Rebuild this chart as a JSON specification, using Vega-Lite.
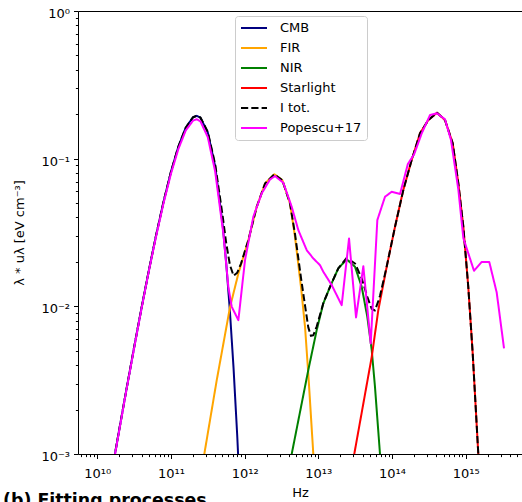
{
  "$schema": "https://vega.github.io/schema/vega-lite/v6.json",
  "width": 444,
  "height": 443,
  "autosize": {"type": "none"},
  "padding": {"left": 78, "top": 11, "right": 0, "bottom": 48},
  "background": "white",
  "config": {
    "font": "DejaVu Sans",
    "view": {"stroke": null},
    "axis": {
      "grid": false,
      "domainColor": "black",
      "domainWidth": 1,
      "tickColor": "black",
      "tickWidth": 1,
      "labelColor": "black",
      "titleColor": "black",
      "labelFont": "DejaVu Sans",
      "titleFont": "DejaVu Sans",
      "labelFontSize": 13,
      "titleFontSize": 13,
      "titleFontWeight": "normal",
      "labelOverlap": false,
      "labelFlush": false,
      "labelBound": false
    }
  },
  "title": {
    "text": "(b) Fitting processes",
    "orient": "bottom",
    "anchor": "start",
    "frame": "group",
    "dx": -75,
    "offset": 6,
    "baseline": "alphabetic",
    "fontSize": 17.4,
    "fontWeight": "bold",
    "font": "DejaVu Sans",
    "color": "black"
  },
  "data": {
    "values": [
      {"series": "CMB", "nu": 1.585e10, "u": 7.68e-4},
      {"series": "CMB", "nu": 1.995e10, "u": 1.476e-3},
      {"series": "CMB", "nu": 2.512e10, "u": 2.806e-3},
      {"series": "CMB", "nu": 3.162e10, "u": 5.26e-3},
      {"series": "CMB", "nu": 3.981e10, "u": 9.7e-3},
      {"series": "CMB", "nu": 5.012e10, "u": 0.01746},
      {"series": "CMB", "nu": 6.31e10, "u": 0.0305},
      {"series": "CMB", "nu": 7.943e10, "u": 0.05117},
      {"series": "CMB", "nu": 1e11, "u": 0.0814},
      {"series": "CMB", "nu": 1.259e11, "u": 0.1204},
      {"series": "CMB", "nu": 1.585e11, "u": 0.1618},
      {"series": "CMB", "nu": 1.995e11, "u": 0.1909},
      {"series": "CMB", "nu": 2.239e11, "u": 0.195},
      {"series": "CMB", "nu": 2.512e11, "u": 0.1896},
      {"series": "CMB", "nu": 3.162e11, "u": 0.1504},
      {"series": "CMB", "nu": 3.981e11, "u": 0.089},
      {"series": "CMB", "nu": 5.012e11, "u": 0.03637},
      {"series": "CMB", "nu": 5.623e11, "u": 0.01967},
      {"series": "CMB", "nu": 6.31e11, "u": 0.0093},
      {"series": "CMB", "nu": 7.079e11, "u": 0.0038},
      {"series": "CMB", "nu": 7.943e11, "u": 0.00132},
      {"series": "CMB", "nu": 8.913e11, "u": 3.8e-4},
      {"series": "CMB", "nu": 1e12, "u": 8.85e-5},

      {"series": "FIR", "nu": 2.512e11, "u": 6.9e-4},
      {"series": "FIR", "nu": 2.838e11, "u": 1.0e-3},
      {"series": "FIR", "nu": 4.178e11, "u": 3.15e-3},
      {"series": "FIR", "nu": 6.339e11, "u": 9.89e-3},
      {"series": "FIR", "nu": 8.222e11, "u": 0.01667},
      {"series": "FIR", "nu": 1.122e12, "u": 0.028},
      {"series": "FIR", "nu": 1.459e12, "u": 0.0471},
      {"series": "FIR", "nu": 1.892e12, "u": 0.0679},
      {"series": "FIR", "nu": 2.529e12, "u": 0.0785},
      {"series": "FIR", "nu": 3.251e12, "u": 0.0715},
      {"series": "FIR", "nu": 4.13e12, "u": 0.0497},
      {"series": "FIR", "nu": 4.831e12, "u": 0.0295},
      {"series": "FIR", "nu": 5.821e12, "u": 0.01352},
      {"series": "FIR", "nu": 6.607e12, "u": 0.00724},
      {"series": "FIR", "nu": 7.311e12, "u": 0.0035},
      {"series": "FIR", "nu": 8.551e12, "u": 0.001},
      {"series": "FIR", "nu": 8.913e12, "u": 7.1e-4},

      {"series": "NIR", "nu": 3.981e12, "u": 8.0e-4},
      {"series": "NIR", "nu": 4.355e12, "u": 1.0e-3},
      {"series": "NIR", "nu": 7.311e12, "u": 0.0037},
      {"series": "NIR", "nu": 9.506e12, "u": 0.0069},
      {"series": "NIR", "nu": 1.169e13, "u": 0.01047},
      {"series": "NIR", "nu": 1.442e13, "u": 0.01355},
      {"series": "NIR", "nu": 1.866e13, "u": 0.01807},
      {"series": "NIR", "nu": 2.427e13, "u": 0.0208},
      {"series": "NIR", "nu": 3.148e13, "u": 0.01853},
      {"series": "NIR", "nu": 3.882e13, "u": 0.01355},
      {"series": "NIR", "nu": 4.624e13, "u": 0.00849},
      {"series": "NIR", "nu": 5.309e13, "u": 0.00505},
      {"series": "NIR", "nu": 5.875e13, "u": 0.00285},
      {"series": "NIR", "nu": 6.871e13, "u": 0.001},
      {"series": "NIR", "nu": 7.244e13, "u": 6.3e-4},

      {"series": "Starlight", "nu": 2.818e13, "u": 7.8e-4},
      {"series": "Starlight", "nu": 3.076e13, "u": 1.0e-3},
      {"series": "Starlight", "nu": 5.309e13, "u": 0.00455},
      {"series": "Starlight", "nu": 6.516e13, "u": 0.00942},
      {"series": "Starlight", "nu": 8.472e13, "u": 0.01853},
      {"series": "Starlight", "nu": 1.099e14, "u": 0.0346},
      {"series": "Starlight", "nu": 1.422e14, "u": 0.0612},
      {"series": "Starlight", "nu": 1.849e14, "u": 0.0979},
      {"series": "Starlight", "nu": 2.399e14, "u": 0.1483},
      {"series": "Starlight", "nu": 3.112e14, "u": 0.1827},
      {"series": "Starlight", "nu": 4.083e14, "u": 0.2046},
      {"series": "Starlight", "nu": 5.236e14, "u": 0.1827},
      {"series": "Starlight", "nu": 6.668e14, "u": 0.127},
      {"series": "Starlight", "nu": 7.943e14, "u": 0.0681},
      {"series": "Starlight", "nu": 9.29e14, "u": 0.0346},
      {"series": "Starlight", "nu": 1.084e15, "u": 0.01355},
      {"series": "Starlight", "nu": 1.245e15, "u": 0.0048},
      {"series": "Starlight", "nu": 1.483e15, "u": 0.001},
      {"series": "Starlight", "nu": 1.549e15, "u": 6.3e-4},

      {"series": "I tot.", "nu": 1.585e10, "u": 7.68e-4},
      {"series": "I tot.", "nu": 1.995e10, "u": 1.476e-3},
      {"series": "I tot.", "nu": 2.512e10, "u": 2.806e-3},
      {"series": "I tot.", "nu": 3.162e10, "u": 5.26e-3},
      {"series": "I tot.", "nu": 3.981e10, "u": 9.7e-3},
      {"series": "I tot.", "nu": 5.012e10, "u": 0.01746},
      {"series": "I tot.", "nu": 6.31e10, "u": 0.0305},
      {"series": "I tot.", "nu": 7.943e10, "u": 0.05117},
      {"series": "I tot.", "nu": 1e11, "u": 0.0814},
      {"series": "I tot.", "nu": 1.259e11, "u": 0.1204},
      {"series": "I tot.", "nu": 1.585e11, "u": 0.1618},
      {"series": "I tot.", "nu": 1.995e11, "u": 0.1909},
      {"series": "I tot.", "nu": 2.239e11, "u": 0.195},
      {"series": "I tot.", "nu": 2.512e11, "u": 0.1902},
      {"series": "I tot.", "nu": 3.162e11, "u": 0.1518},
      {"series": "I tot.", "nu": 3.981e11, "u": 0.0917},
      {"series": "I tot.", "nu": 5.012e11, "u": 0.0416},
      {"series": "I tot.", "nu": 5.623e11, "u": 0.0268},
      {"series": "I tot.", "nu": 6.31e11, "u": 0.0191},
      {"series": "I tot.", "nu": 7.079e11, "u": 0.0161},
      {"series": "I tot.", "nu": 7.943e11, "u": 0.0169},
      {"series": "I tot.", "nu": 8.913e11, "u": 0.0194},
      {"series": "I tot.", "nu": 1.122e12, "u": 0.028},
      {"series": "I tot.", "nu": 1.459e12, "u": 0.0471},
      {"series": "I tot.", "nu": 1.892e12, "u": 0.0679},
      {"series": "I tot.", "nu": 2.529e12, "u": 0.0785},
      {"series": "I tot.", "nu": 3.251e12, "u": 0.0715},
      {"series": "I tot.", "nu": 4.13e12, "u": 0.0497},
      {"series": "I tot.", "nu": 4.831e12, "u": 0.0308},
      {"series": "I tot.", "nu": 5.821e12, "u": 0.0156},
      {"series": "I tot.", "nu": 6.607e12, "u": 0.0101},
      {"series": "I tot.", "nu": 7.311e12, "u": 0.0072},
      {"series": "I tot.", "nu": 7.943e12, "u": 0.00631},
      {"series": "I tot.", "nu": 8.551e12, "u": 0.00637},
      {"series": "I tot.", "nu": 9.506e12, "u": 0.0073},
      {"series": "I tot.", "nu": 1.169e13, "u": 0.0105},
      {"series": "I tot.", "nu": 1.442e13, "u": 0.01355},
      {"series": "I tot.", "nu": 1.866e13, "u": 0.01807},
      {"series": "I tot.", "nu": 2.427e13, "u": 0.0213},
      {"series": "I tot.", "nu": 3.148e13, "u": 0.0195},
      {"series": "I tot.", "nu": 3.882e13, "u": 0.01546},
      {"series": "I tot.", "nu": 4.624e13, "u": 0.01159},
      {"series": "I tot.", "nu": 5.309e13, "u": 0.0096},
      {"series": "I tot.", "nu": 5.875e13, "u": 0.00937},
      {"series": "I tot.", "nu": 6.516e13, "u": 0.01085},
      {"series": "I tot.", "nu": 6.871e13, "u": 0.01179},
      {"series": "I tot.", "nu": 8.472e13, "u": 0.0186},
      {"series": "I tot.", "nu": 1.099e14, "u": 0.0346},
      {"series": "I tot.", "nu": 1.422e14, "u": 0.0612},
      {"series": "I tot.", "nu": 1.849e14, "u": 0.0979},
      {"series": "I tot.", "nu": 2.399e14, "u": 0.1483},
      {"series": "I tot.", "nu": 3.112e14, "u": 0.1827},
      {"series": "I tot.", "nu": 4.083e14, "u": 0.2046},
      {"series": "I tot.", "nu": 5.236e14, "u": 0.1827},
      {"series": "I tot.", "nu": 6.668e14, "u": 0.127},
      {"series": "I tot.", "nu": 7.943e14, "u": 0.0681},
      {"series": "I tot.", "nu": 9.29e14, "u": 0.0346},
      {"series": "I tot.", "nu": 1.084e15, "u": 0.01355},
      {"series": "I tot.", "nu": 1.245e15, "u": 0.0048},
      {"series": "I tot.", "nu": 1.483e15, "u": 0.001},
      {"series": "I tot.", "nu": 1.549e15, "u": 6.3e-4},

      {"series": "Popescu+17", "nu": 1.585e10, "u": 7.6e-4},
      {"series": "Popescu+17", "nu": 1.995e10, "u": 1.46e-3},
      {"series": "Popescu+17", "nu": 2.512e10, "u": 2.78e-3},
      {"series": "Popescu+17", "nu": 3.162e10, "u": 5.2e-3},
      {"series": "Popescu+17", "nu": 3.981e10, "u": 9.6e-3},
      {"series": "Popescu+17", "nu": 5.012e10, "u": 0.0173},
      {"series": "Popescu+17", "nu": 6.31e10, "u": 0.03},
      {"series": "Popescu+17", "nu": 7.943e10, "u": 0.05},
      {"series": "Popescu+17", "nu": 1e11, "u": 0.079},
      {"series": "Popescu+17", "nu": 1.259e11, "u": 0.116},
      {"series": "Popescu+17", "nu": 1.585e11, "u": 0.155},
      {"series": "Popescu+17", "nu": 1.995e11, "u": 0.181},
      {"series": "Popescu+17", "nu": 2.239e11, "u": 0.185},
      {"series": "Popescu+17", "nu": 2.512e11, "u": 0.179},
      {"series": "Popescu+17", "nu": 3.162e11, "u": 0.14},
      {"series": "Popescu+17", "nu": 3.981e11, "u": 0.082},
      {"series": "Popescu+17", "nu": 5.14e11, "u": 0.0312},
      {"series": "Popescu+17", "nu": 6.012e11, "u": 0.01355},
      {"series": "Popescu+17", "nu": 6.683e11, "u": 0.00993},
      {"series": "Popescu+17", "nu": 8.222e11, "u": 0.00806},
      {"series": "Popescu+17", "nu": 1.012e12, "u": 0.02056},
      {"series": "Popescu+17", "nu": 1.312e12, "u": 0.0404},
      {"series": "Popescu+17", "nu": 1.706e12, "u": 0.0582},
      {"series": "Popescu+17", "nu": 2.213e12, "u": 0.0724},
      {"series": "Popescu+17", "nu": 2.588e12, "u": 0.0762},
      {"series": "Popescu+17", "nu": 3.35e12, "u": 0.0687},
      {"series": "Popescu+17", "nu": 4.355e12, "u": 0.0472},
      {"series": "Popescu+17", "nu": 5.358e12, "u": 0.0328},
      {"series": "Popescu+17", "nu": 6.966e12, "u": 0.024},
      {"series": "Popescu+17", "nu": 8.551e12, "u": 0.0211},
      {"series": "Popescu+17", "nu": 1.054e13, "u": 0.019},
      {"series": "Popescu+17", "nu": 1.169e13, "u": 0.01714},
      {"series": "Popescu+17", "nu": 1.521e13, "u": 0.01392},
      {"series": "Popescu+17", "nu": 2.075e13, "u": 0.01019},
      {"series": "Popescu+17", "nu": 2.612e13, "u": 0.0288},
      {"series": "Popescu+17", "nu": 3.251e13, "u": 0.00841},
      {"series": "Popescu+17", "nu": 4.083e13, "u": 0.0187},
      {"series": "Popescu+17", "nu": 5.14e13, "u": 0.00561},
      {"series": "Popescu+17", "nu": 6.324e13, "u": 0.0384},
      {"series": "Popescu+17", "nu": 8.035e13, "u": 0.0552},
      {"series": "Popescu+17", "nu": 9.908e13, "u": 0.0597},
      {"series": "Popescu+17", "nu": 1.285e14, "u": 0.0576},
      {"series": "Popescu+17", "nu": 1.641e14, "u": 0.092},
      {"series": "Popescu+17", "nu": 1.995e14, "u": 0.107},
      {"series": "Popescu+17", "nu": 2.529e14, "u": 0.1483},
      {"series": "Popescu+17", "nu": 3.281e14, "u": 0.1974},
      {"series": "Popescu+17", "nu": 4.074e14, "u": 0.2028},
      {"series": "Popescu+17", "nu": 5.236e14, "u": 0.185},
      {"series": "Popescu+17", "nu": 6.31e14, "u": 0.134},
      {"series": "Popescu+17", "nu": 7.943e14, "u": 0.062},
      {"series": "Popescu+17", "nu": 9.29e14, "u": 0.029},
      {"series": "Popescu+17", "nu": 1.297e15, "u": 0.0174},
      {"series": "Popescu+17", "nu": 1.648e15, "u": 0.02},
      {"series": "Popescu+17", "nu": 2.089e15, "u": 0.02},
      {"series": "Popescu+17", "nu": 2.636e15, "u": 0.0124},
      {"series": "Popescu+17", "nu": 3.311e15, "u": 0.0052}
    ]
  },
  "layer": [
    {
      "transform": [{"filter": "datum.series === 'Starlight' && datum.u > 0.002"}],
      "mark": {"type": "line", "opacity": 0, "clip": true},
      "encoding": {
        "x": {
          "field": "nu", "type": "quantitative",
          "scale": {"type": "log", "domain": [5.48e9, 5.81e15], "nice": false},
          "axis": {"orient": "top", "ticks": false, "labels": false, "title": null}
        },
        "y": {
          "field": "u", "type": "quantitative",
          "scale": {"type": "log", "domain": [0.001, 1], "nice": false},
          "axis": null
        }
      }
    },
    {
      "transform": [{"filter": {"field": "series", "oneOf": ["CMB", "FIR", "NIR", "Starlight"]}}],
      "mark": {"type": "line", "strokeWidth": 2, "clip": true, "strokeJoin": "round"},
      "encoding": {
        "x": {
          "field": "nu", "type": "quantitative",
          "scale": {"type": "log", "domain": [5.48e9, 5.81e15], "nice": false},
          "axis": {
            "orient": "bottom",
            "title": "Hz",
            "values": [6e9, 7e9, 8e9, 9e9,
              1e10, 2e10, 3e10, 4e10, 5e10, 6e10, 7e10, 8e10, 9e10,
              1e11, 2e11, 3e11, 4e11, 5e11, 6e11, 7e11, 8e11, 9e11,
              1e12, 2e12, 3e12, 4e12, 5e12, 6e12, 7e12, 8e12, 9e12,
              1e13, 2e13, 3e13, 4e13, 5e13, 6e13, 7e13, 8e13, 9e13,
              1e14, 2e14, 3e14, 4e14, 5e14, 6e14, 7e14, 8e14, 9e14,
              1e15, 2e15, 3e15, 4e15, 5e15],
            "labelExpr": "abs(log(datum.value)/LN10 - round(log(datum.value)/LN10)) < 0.001 ? '10' + ['¹⁰','¹¹','¹²','¹³','¹⁴','¹⁵'][round(log(datum.value)/LN10) - 10] : ''",
            "tickSize": {"condition": {"test": "abs(log(datum.value)/LN10 - round(log(datum.value)/LN10)) > 0.001", "value": 2.6}, "value": 4.5},
            "labelBaseline": "top",
            "labelPadding": 9,
            "titlePadding": 6
          }
        },
        "y": {
          "field": "u", "type": "quantitative",
          "scale": {"type": "log", "domain": [0.001, 1], "nice": false},
          "axis": {
            "title": "λ * uλ [eV cm⁻³]",
            "values": [0.001, 0.002, 0.003, 0.004, 0.005, 0.006, 0.007, 0.008, 0.009,
              0.01, 0.02, 0.03, 0.04, 0.05, 0.06, 0.07, 0.08, 0.09,
              0.1, 0.2, 0.3, 0.4, 0.5, 0.6, 0.7, 0.8, 0.9, 1],
            "labelExpr": "abs(log(datum.value)/LN10 - round(log(datum.value)/LN10)) < 0.001 ? '10' + ['⁰','⁻¹','⁻²','⁻³'][abs(round(log(datum.value)/LN10))] : ''",
            "tickSize": {"condition": {"test": "abs(log(datum.value)/LN10 - round(log(datum.value)/LN10)) > 0.001", "value": 2.6}, "value": 4.5},
            "labelPadding": 4,
            "labelOffset": 2.5,
            "titlePadding": 14
          }
        },
        "color": {
          "field": "series", "type": "nominal",
          "scale": {"domain": ["CMB", "FIR", "NIR", "Starlight", "I tot.", "Popescu+17"], "range": ["#000080", "#ffa500", "#008000", "#ff0000", "#000000", "#ff00ff"]},
          "legend": {"title": null, "orient": "none", "legendX": 157, "legendY": 5, "symbolType": "stroke", "symbolSize": 676, "symbolStrokeWidth": 2, "clipHeight": 14, "labelFontSize": 13, "labelFont": "DejaVu Sans", "labelColor": "black", "labelOffset": 12, "rowPadding": 6, "padding": 5, "strokeColor": "#cccccc", "fillColor": "white", "cornerRadius": 3, "labelLimit": 300}
        },
        "strokeDash": {
          "field": "series", "type": "nominal",
          "scale": {"domain": ["CMB", "FIR", "NIR", "Starlight", "I tot.", "Popescu+17"], "range": [[1, 0], [1, 0], [1, 0], [1, 0], [7.2, 3.1], [1, 0]]},
          "legend": {"title": null, "orient": "none", "legendX": 157, "legendY": 5, "symbolType": "stroke", "symbolSize": 676, "symbolStrokeWidth": 2, "clipHeight": 14, "labelFontSize": 13, "labelFont": "DejaVu Sans", "labelColor": "black", "labelOffset": 12, "rowPadding": 6, "padding": 5, "strokeColor": "#cccccc", "fillColor": "white", "cornerRadius": 3, "labelLimit": 300}
        }
      }
    },
    {
      "transform": [{"filter": "datum.series === 'I tot.'"}],
      "mark": {"type": "line", "strokeWidth": 2, "clip": true, "strokeJoin": "round", "strokeCap": "butt"},
      "encoding": {
        "x": {"field": "nu", "type": "quantitative", "scale": {"type": "log", "domain": [5.48e9, 5.81e15], "nice": false}, "axis": null},
        "y": {"field": "u", "type": "quantitative", "scale": {"type": "log", "domain": [0.001, 1], "nice": false}, "axis": null},
        "color": {
          "field": "series", "type": "nominal",
          "scale": {"domain": ["CMB", "FIR", "NIR", "Starlight", "I tot.", "Popescu+17"], "range": ["#000080", "#ffa500", "#008000", "#ff0000", "#000000", "#ff00ff"]},
          "legend": {"title": null, "orient": "none", "legendX": 157, "legendY": 5, "symbolType": "stroke", "symbolSize": 676, "symbolStrokeWidth": 2, "clipHeight": 14, "labelFontSize": 13, "labelFont": "DejaVu Sans", "labelColor": "black", "labelOffset": 12, "rowPadding": 6, "padding": 5, "strokeColor": "#cccccc", "fillColor": "white", "cornerRadius": 3, "labelLimit": 300}
        },
        "strokeDash": {
          "field": "series", "type": "nominal",
          "scale": {"domain": ["CMB", "FIR", "NIR", "Starlight", "I tot.", "Popescu+17"], "range": [[1, 0], [1, 0], [1, 0], [1, 0], [7.2, 3.1], [1, 0]]},
          "legend": {"title": null, "orient": "none", "legendX": 157, "legendY": 5, "symbolType": "stroke", "symbolSize": 676, "symbolStrokeWidth": 2, "clipHeight": 14, "labelFontSize": 13, "labelFont": "DejaVu Sans", "labelColor": "black", "labelOffset": 12, "rowPadding": 6, "padding": 5, "strokeColor": "#cccccc", "fillColor": "white", "cornerRadius": 3, "labelLimit": 300}
        }
      }
    },
    {
      "transform": [{"filter": "datum.series === 'Popescu+17'"}],
      "mark": {"type": "line", "strokeWidth": 2, "clip": true, "strokeJoin": "round"},
      "encoding": {
        "x": {"field": "nu", "type": "quantitative", "scale": {"type": "log", "domain": [5.48e9, 5.81e15], "nice": false}, "axis": null},
        "y": {"field": "u", "type": "quantitative", "scale": {"type": "log", "domain": [0.001, 1], "nice": false}, "axis": null},
        "color": {
          "field": "series", "type": "nominal",
          "scale": {"domain": ["CMB", "FIR", "NIR", "Starlight", "I tot.", "Popescu+17"], "range": ["#000080", "#ffa500", "#008000", "#ff0000", "#000000", "#ff00ff"]},
          "legend": {"title": null, "orient": "none", "legendX": 157, "legendY": 5, "symbolType": "stroke", "symbolSize": 676, "symbolStrokeWidth": 2, "clipHeight": 14, "labelFontSize": 13, "labelFont": "DejaVu Sans", "labelColor": "black", "labelOffset": 12, "rowPadding": 6, "padding": 5, "strokeColor": "#cccccc", "fillColor": "white", "cornerRadius": 3, "labelLimit": 300}
        },
        "strokeDash": {
          "field": "series", "type": "nominal",
          "scale": {"domain": ["CMB", "FIR", "NIR", "Starlight", "I tot.", "Popescu+17"], "range": [[1, 0], [1, 0], [1, 0], [1, 0], [7.2, 3.1], [1, 0]]},
          "legend": {"title": null, "orient": "none", "legendX": 157, "legendY": 5, "symbolType": "stroke", "symbolSize": 676, "symbolStrokeWidth": 2, "clipHeight": 14, "labelFontSize": 13, "labelFont": "DejaVu Sans", "labelColor": "black", "labelOffset": 12, "rowPadding": 6, "padding": 5, "strokeColor": "#cccccc", "fillColor": "white", "cornerRadius": 3, "labelLimit": 300}
        }
      }
    }
  ],
  "resolve": {"axis": {"x": "independent", "y": "independent"}}
}
